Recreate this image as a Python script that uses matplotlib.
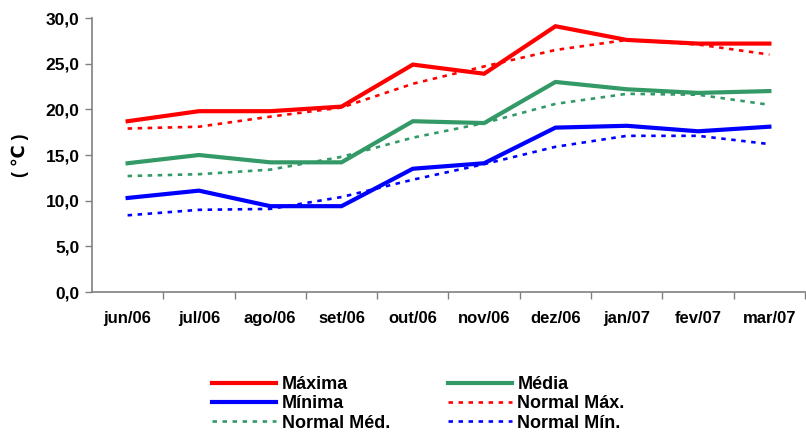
import matplotlib
matplotlib.use("Agg")
import matplotlib.pyplot as plt

plt.rcParams['font.family'] = ['Liberation Sans', 'DejaVu Sans']

# Monthly temperatures (°C), June 2006 – March 2007
meses = ["jun/06", "jul/06", "ago/06", "set/06", "out/06",
         "nov/06", "dez/06", "jan/07", "fev/07", "mar/07"]
maxima = [18.7, 19.8, 19.8, 20.3, 24.9, 23.9, 29.1, 27.6, 27.2, 27.2]
media = [14.1, 15.0, 14.2, 14.2, 18.7, 18.5, 23.0, 22.2, 21.8, 22.0]
minima = [10.3, 11.1, 9.4, 9.4, 13.5, 14.1, 18.0, 18.2, 17.6, 18.1]
normal_max = [17.9, 18.1, 19.2, 20.2, 22.8, 24.7, 26.5, 27.6, 27.1, 26.0]
normal_med = [12.7, 12.9, 13.4, 14.8, 16.9, 18.5, 20.6, 21.7, 21.6, 20.5]
normal_min = [8.4, 9.0, 9.1, 10.4, 12.3, 14.0, 15.9, 17.1, 17.1, 16.2]
y_ticks = [0, 5, 10, 15, 20, 25, 30]

RED = "#FF0000"
GREEN = "#339966"
BLUE = "#0000FF"

fig = plt.figure(figsize=(8.06, 4.32), dpi=100)
ax = fig.add_axes([0.1141, 0.324, 0.8847, 0.6343])

x = list(range(len(meses)))
solid_kw = dict(lw=3.0, solid_joinstyle="miter")
dot_kw = dict(lw=1.9, dashes=(1.7, 2.1), dash_capstyle="butt")

h_max, = ax.plot(x, maxima, color=RED, label="Máxima", **solid_kw)
h_med, = ax.plot(x, media, color=GREEN, label="Média", **solid_kw)
h_min, = ax.plot(x, minima, color=BLUE, label="Mínima", **solid_kw)
h_nmax, = ax.plot(x, normal_max, color=RED, label="Normal Máx.", **dot_kw)
h_nmed, = ax.plot(x, normal_med, color=GREEN, label="Normal Méd.", **dot_kw)
h_nmin, = ax.plot(x, normal_min, color=BLUE, label="Normal Mín.", **dot_kw)

ax.set_xlim(-0.5, len(meses) - 0.5)
ax.set_ylim(0, 30)

# y axis
ax.set_yticks(y_ticks)
ax.set_yticklabels([f"{v:.1f}".replace(".", ",") for v in y_ticks],
                   fontsize=12.5, fontweight="bold")
ax.tick_params(axis="y", direction="out", length=5, width=1, color="#808080", pad=4)

# x axis: labels at category centres, ticks between categories
ax.set_xticks(x)
ax.set_xticklabels(meses, fontsize=12, fontweight="bold")
ax.tick_params(axis="x", which="major", length=0, pad=14)
ax.set_xticks([i + 0.5 for i in range(len(meses))], minor=True)
ax.tick_params(axis="x", which="minor", direction="out", length=5, width=1, color="#808080")

for side in ("top", "right"):
    ax.spines[side].set_visible(False)
for side in ("left", "bottom"):
    ax.spines[side].set_color("#808080")
    ax.spines[side].set_linewidth(1.2)

fig.text(20 / 806, 1 - 155 / 432, "( ℃ )", rotation=90, fontsize=13,
         fontweight="bold", ha="center", va="center")

handles = [h_max, h_min, h_nmed, h_med, h_nmax, h_nmin]
leg = fig.legend(handles, [h.get_label() for h in handles],
                 ncol=2, loc="center", bbox_to_anchor=(418.5 / 806, 1 - 404 / 432),
                 frameon=False, handlelength=3.55, handletextpad=0.3,
                 columnspacing=3.2, labelspacing=0.12,
                 prop=dict(size=13, weight="bold"))

fig.savefig("out.png", dpi=100)
